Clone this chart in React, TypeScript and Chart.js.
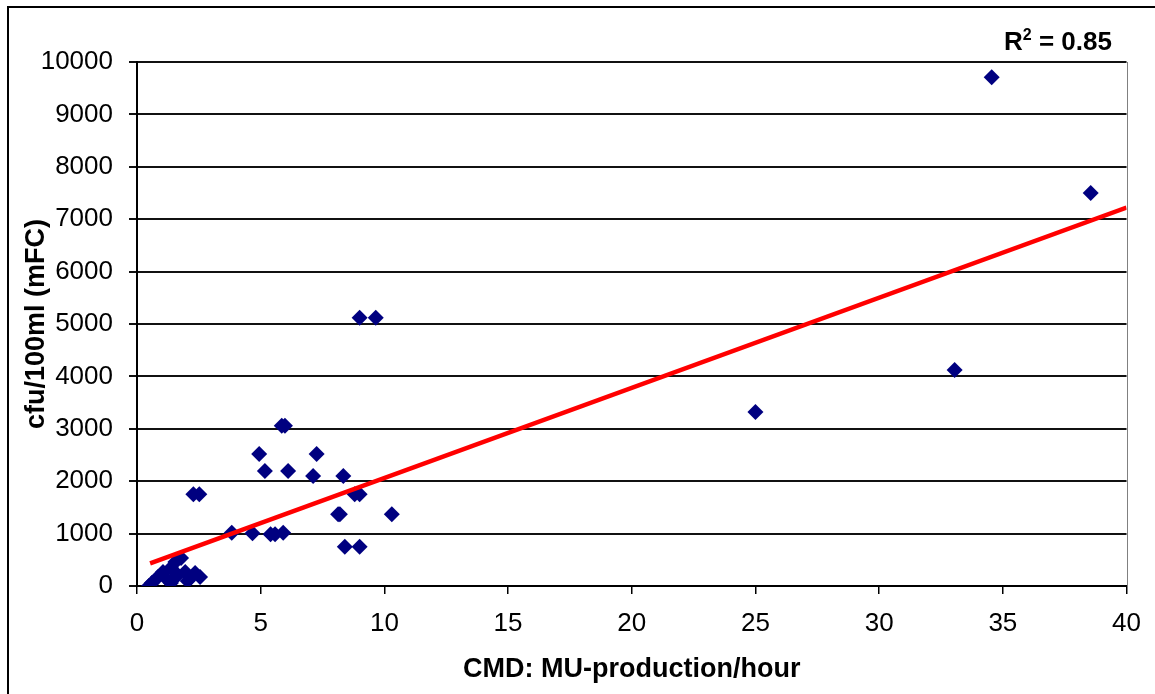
import React, { useEffect, useRef } from "react";
import { Chart, registerables } from "chart.js";

Chart.register(...registerables);

const xValues = [
  0.48, 0.6, 0.85, 1.05, 1.2, 1.37, 1.55, 1.78, 1.65, 1.37, 1.95, 2.15, 2.35, 2.55, 2.05,
  2.28, 2.52, 3.83, 4.67, 5.4, 5.58, 5.91, 4.94, 5.17, 5.85, 5.98, 6.11, 7.12, 7.26,
  8.34, 8.13, 8.2, 8.8, 9.0, 8.4, 9.0, 10.3, 9.0, 9.65,
  25.0, 33.05, 34.55, 38.55,
];
const yValues = [
  0, 57, 170, 267, 134, 343, 458, 534, 210, 57, 267, 153, 248, 172, 95,
  1750, 1750, 1017, 1005, 987, 987, 1017, 2519, 2195, 3059, 3059, 2195, 2099, 2519,
  2099, 1368, 1368, 1750, 1750, 750, 750, 1368, 5120, 5120,
  3320, 4120, 9710, 7500,
];
const trendX = [0.53, 40];
const trendY = [433, 7223];
const xTicks = [0, 5, 10, 15, 20, 25, 30, 35, 40];
const yTicks = [0, 1000, 2000, 3000, 4000, 5000, 6000, 7000, 8000, 9000, 10000];
const xTitle = "CMD: MU-production/hour";
const yTitle = "cfu/100ml (mFC)";
const rSquared = "0.85";

const FONT = "'Liberation Sans', Arial, sans-serif";

const framePlugin = {
  id: "frame",
  afterDraw(chart: any) {
    const { ctx, chartArea } = chart;
    ctx.save();
    ctx.strokeStyle = "#000";
    ctx.lineWidth = 2;
    ctx.beginPath();
    ctx.moveTo(8, 700);
    ctx.lineTo(8, 7);
    ctx.lineTo(1160, 7);
    ctx.stroke();
    ctx.strokeStyle = "#808080";
    ctx.lineWidth = 1;
    ctx.beginPath();
    ctx.moveTo(Math.round(chartArea.right) + 0.5, chartArea.top);
    ctx.lineTo(Math.round(chartArea.right) + 0.5, chartArea.bottom);
    ctx.stroke();
    ctx.restore();
  },
};

export default function App() {
  const ref = useRef<HTMLCanvasElement | null>(null);

  useEffect(() => {
    if (!ref.current) return;
    const points = xValues.map((x, i) => ({ x, y: yValues[i] }));
    const trend = trendX.map((x, i) => ({ x, y: trendY[i] }));
    const chart = new Chart(ref.current, {
      type: "scatter",
      data: {
        datasets: [
          {
            type: "line",
            data: trend,
            borderColor: "#ff0000",
            borderWidth: 4.5,
            pointRadius: 0,
            fill: false,
            order: 0,
          } as any,
          {
            data: points,
            backgroundColor: "#000080",
            borderColor: "#000080",
            borderWidth: 0,
            pointStyle: "rectRot",
            pointRadius: 8,
            order: 1,
          },
        ],
      },
      options: {
        responsive: false,
        animation: false,
        layout: { padding: { left: 8, top: 62, right: 28, bottom: 0 } },
        plugins: {
          legend: { display: false },
          tooltip: { enabled: false },
        },
        scales: {
          x: {
            type: "linear",
            min: 0,
            max: 40,
            afterBuildTicks: (s: any) => {
              s.ticks = xTicks.map((v) => ({ value: v }));
            },
            afterFit: (s: any) => {
              s.height = 108;
            },
            grid: {
              drawOnChartArea: false,
              drawTicks: true,
              tickLength: 8,
              color: "#000",
              lineWidth: 1.5,
            },
            border: { color: "#000", width: 2 },
            ticks: {
              color: "#000",
              padding: 14,
              font: { family: FONT, size: 26 },
              maxRotation: 0,
              callback: (v: any) => String(v),
            },
            title: {
              display: true,
              text: xTitle,
              color: "#000",
              font: { family: FONT, size: 27, weight: "bold" },
              padding: { top: 0, bottom: 8 },
            },
          },
          y: {
            type: "linear",
            min: 0,
            max: 10000,
            afterBuildTicks: (s: any) => {
              s.ticks = yTicks.map((v) => ({ value: v }));
            },
            afterFit: (s: any) => {
              s.width = 129;
            },
            grid: {
              drawTicks: true,
              tickLength: 8,
              color: "#111",
              lineWidth: 2,
            },
            border: { color: "#000", width: 2 },
            ticks: {
              color: "#000",
              padding: 16,
              font: { family: FONT, size: 26 },
              callback: (v: any) => String(v),
            },
            title: {
              display: true,
              text: yTitle,
              color: "#000",
              font: { family: FONT, size: 27, weight: "bold" },
              padding: { top: 12, bottom: 0 },
            },
          },
        },
      },
      plugins: [framePlugin],
    });
    return () => chart.destroy();
  }, []);

  return (
    <div style={{ position: "fixed", left: 0, top: 0, width: 1155, height: 694, background: "#fff" }}>
      <canvas ref={ref} width={1155} height={694} style={{ display: "block" }} />
      <div
        style={{
          position: "absolute",
          left: 1004,
          top: 28,
          fontFamily: FONT,
          fontWeight: "bold",
          fontSize: 26,
          lineHeight: "26px",
          color: "#000",
          whiteSpace: "nowrap",
        }}
      >
        R<span style={{ fontSize: 16, position: "relative", top: -10 }}>2</span> = {rSquared}
      </div>
    </div>
  );
}
